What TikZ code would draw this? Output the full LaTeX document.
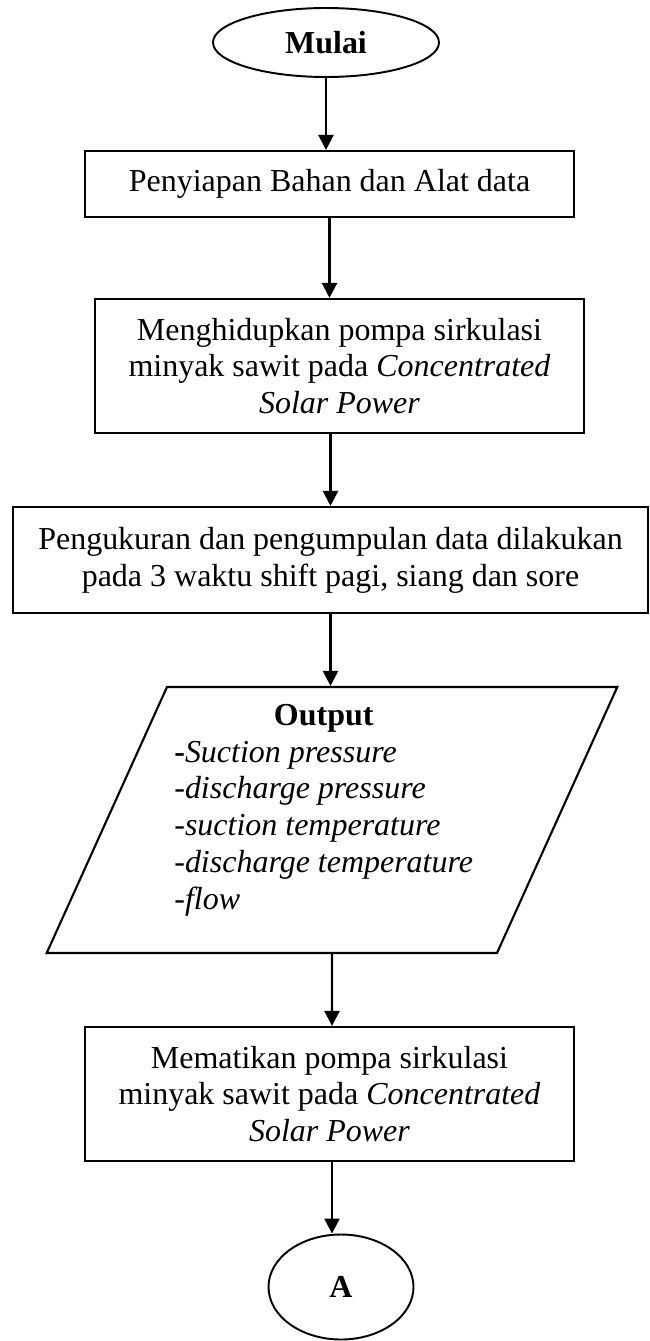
\documentclass[tikz,border=0pt]{standalone}
\usepackage{fontspec}
\setmainfont{Liberation Serif}
\usetikzlibrary{shapes.geometric,arrows.meta}
\tikzset{
  proses/.style={draw,line width=1.2pt,inner sep=0pt,align=center,minimum width=9.78cm},
  terminal/.style={draw,ellipse,line width=1.1pt,inner sep=0pt,font=\fontsize{18.2}{21}\selectfont\bfseries},
  panah/.style={-{Triangle[width=0.3cm,length=0.3cm]},line width=1.3pt}
}
\begin{document}
\begin{tikzpicture}[every node/.append style={font=\fontsize{18.2}{21}\selectfont}]
\useasboundingbox (0,0) rectangle (13,-26.82);
\node[terminal,minimum width=4.52cm,minimum height=1.38cm] (m) at (6.52,-0.85) {Mulai};
\node[proses,minimum height=1.32cm] (pb) at (6.59,-3.68) {Penyiapan Bahan dan Alat data};
\draw[panah] (m) -- (m |- pb.north);
\node[proses,minimum height=2.68cm] (hp) at (6.79,-7.32) {Menghidupkan pompa sirkulasi\\minyak sawit pada \textit{Concentrated}\\\textit{Solar Power}};
\draw[panah] (pb) -- (pb |- hp.north);
\node[proses,minimum width=12.7cm,minimum height=2.12cm] (ud) at (6.61,-11.2) {Pengukuran dan pengumpulan data dilakukan\\pada 3 waktu shift pagi, siang dan sore};
\draw[panah] (ud |- hp.south) -- (ud);
\node[draw,line width=1.2pt,trapezium,trapezium left angle=68.8,trapezium right angle=111.2,trapezium stretches,minimum width=11.44cm,minimum height=5.32cm,inner sep=1pt] (op) at (6.64,-16.4) {\phantom{O}};
\draw[panah] (ud) -- (ud |- op.north);
\node[anchor=west,inner sep=0pt] (opt) at (3.48,-16.2) {\begin{tabular}{@{}l@{}}\multicolumn{1}{@{}c@{}}{\textbf{Output}}\\
\textbf{-}\textit{Suction pressure}\\
\textit{-discharge pressure}\\
\textit{-suction temperature}\\
\textit{-discharge temperature}\\
\textit{-flow}\end{tabular}};
\node[proses,minimum height=2.68cm] (mp) at (6.59,-21.88) {Mematikan pompa sirkulasi\\minyak sawit pada \textit{Concentrated}\\\textit{Solar Power}};
\draw[panah] (op) -- (op |- mp.north);
\node[terminal,minimum width=2.9cm,minimum height=2.1cm] (ka) at (6.82,-25.74) {A};
\draw[panah] (op |- mp.south) -- (op |- ka.north);
\end{tikzpicture}
\end{document}
